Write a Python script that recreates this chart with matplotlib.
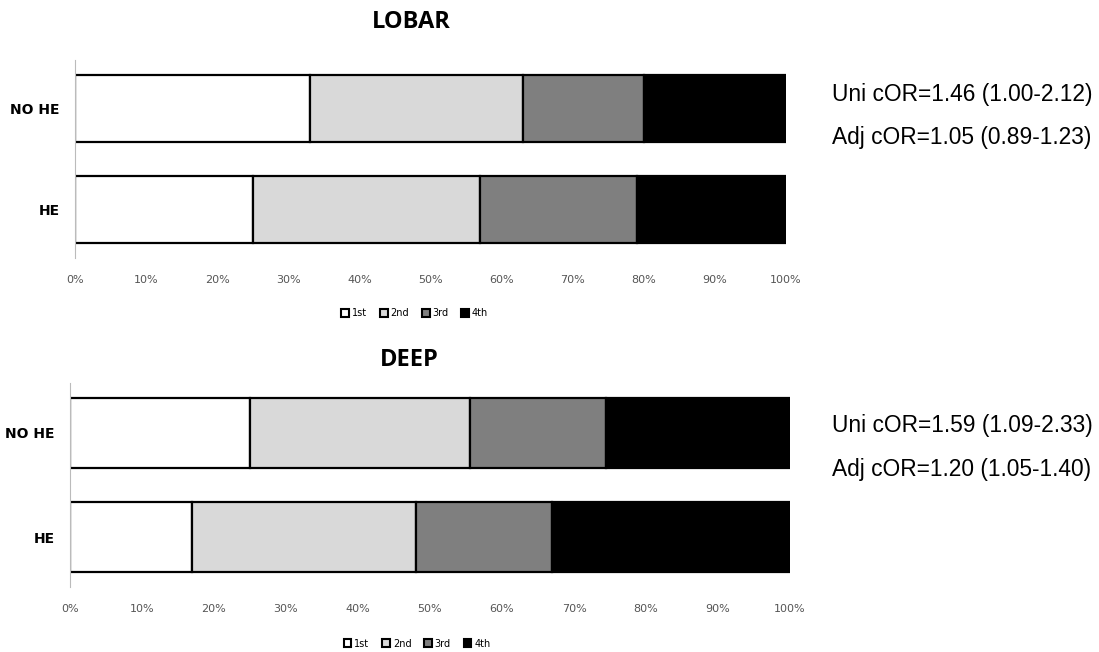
import matplotlib.pyplot as plt
from matplotlib.patches import Patch

groups = ['HE', 'NO HE']
quartiles = ['1st', '2nd', '3rd', '4th']
colors = ['#ffffff', '#d9d9d9', '#7f7f7f', '#000000']

# percentage of each quartile, rows follow groups (HE, NO HE)
lobar = {
    '1st': [25, 33],
    '2nd': [32, 30],
    '3rd': [22, 17],
    '4th': [21, 20],
}
deep = {
    '1st': [17, 25],
    '2nd': [31, 30.5],
    '3rd': [19, 19],
    '4th': [33, 25.5],
}
lobar_text = ['Uni cOR=1.46 (1.00-2.12)', 'Adj cOR=1.05 (0.89-1.23)']
deep_text = ['Uni cOR=1.59 (1.09-2.33)', 'Adj cOR=1.20 (1.05-1.40)']
xticks = list(range(0, 101, 10))

W, H = 1099, 652


def draw(ax, data, title, title_xy, bar_h, leg_x):
    left = [0, 0]
    for q, c in zip(quartiles, colors):
        vals = data[q]
        ax.barh(groups, vals, left=left, height=bar_h, color=c,
                edgecolor='black', linewidth=1.6)
        left = [l + v for l, v in zip(left, vals)]
    ax.set_xlim(0, 100)
    ax.set_ylim(-0.48, 1.48)
    ax.set_xticks(xticks)
    ax.set_xticklabels([f'{t}%' for t in xticks], fontsize=8, color='#555555',
                       family='Liberation Sans Narrow')
    ax.tick_params(axis='x', length=0, pad=12)
    ax.tick_params(axis='y', length=0, pad=11)
    for lbl in ax.get_yticklabels():
        lbl.set_fontsize(10)
        lbl.set_fontweight('bold')
        lbl.set_family('Liberation Sans Narrow')
    for s in ['top', 'right', 'bottom']:
        ax.spines[s].set_visible(False)
    ax.spines['left'].set_color('#bbbbbb')
    fig.text(title_xy[0] / W, 1 - title_xy[1] / H, title, fontsize=17,
             fontweight='bold', family='Open Sans', ha='center', va='center')
    handles = [Patch(facecolor=c, edgecolor='black', linewidth=1.5) for c in colors]
    ax.legend(handles, quartiles, loc='upper center', bbox_to_anchor=(leg_x, -0.21),
              ncol=4, frameon=False, handlelength=0.8, handleheight=0.8,
              handletextpad=0.3, columnspacing=1.3,
              prop={'family': 'Liberation Sans Narrow', 'size': 7})


def notes(lines, baselines):
    for txt, yb in zip(lines, baselines):
        fig.text(832 / W, 1 - yb / H, txt, fontsize=16.4,
                 family='Liberation Sans', va='baseline', ha='left')


fig = plt.figure(figsize=(W / 100, H / 100), dpi=100)
ax1 = fig.add_axes([75 / W, 1 - 258 / H, 711 / W, 198 / H])
ax2 = fig.add_axes([70 / W, 1 - 587 / H, 720 / W, 204 / H])

draw(ax1, lobar, 'LOBAR', (411, 22), 0.67, 0.478)
draw(ax2, deep, 'DEEP', (409, 360), 0.67, 0.482)
notes(lobar_text, (101, 144))
notes(deep_text, (432, 476))

fig.savefig('out.png', dpi=100)
